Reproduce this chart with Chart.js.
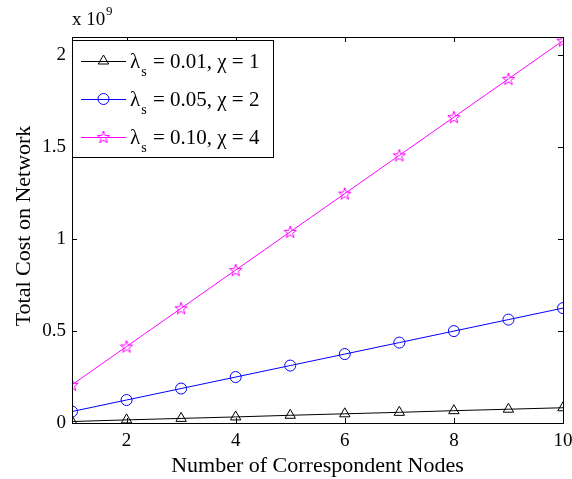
<!DOCTYPE html>
<html><head><meta charset="utf-8">
<script src="https://cdn.jsdelivr.net/npm/chart.js@4/dist/chart.umd.min.js"></script>
<style>html,body{margin:0;padding:0;background:#fff}#wrap{width:572px;height:479px}</style>
</head><body><div id="wrap"><canvas id="c" width="572" height="479"></canvas></div>
<script>
const nodes = [1,2,3,4,5,6,7,8,9,10];
const seriesLow = [0.008,0.017,0.025,0.033,0.042,0.050,0.058,0.067,0.075,0.083];
const seriesMid = [0.0625,0.125,0.1875,0.25,0.3125,0.375,0.4375,0.50,0.5625,0.625];
const seriesHigh = [0.208,0.416,0.624,0.832,1.04,1.248,1.456,1.664,1.872,2.08];
const xTicks = [2,4,6,8,10];
const yTicks = [0,0.5,1,1.5,2];
const legendSub = ['s','s','s'];
const legendPre = ['λ','λ','λ'];
const legendPost = [' = 0.01, χ = 1',' = 0.05, χ = 2',' = 0.10, χ = 4'];
const yTitle = 'Total Cost on Network';
const xTitle = 'Number of Correspondent Nodes';
const FONT = '"Liberation Serif", "Times New Roman", serif';

function starImg(color){
  const s = 16, c = document.createElement('canvas'); c.width = s; c.height = s;
  const g = c.getContext('2d'); g.strokeStyle = color; g.lineWidth = 1;
  const R = 6.5, r = 2.6, cx = 8, cy = 8.5;
  g.beginPath();
  for (let i=0;i<10;i++){ const a = -Math.PI/2 + i*Math.PI/5; const rr = i%2? r:R;
    const px = cx + rr*Math.cos(a), py = cy + rr*Math.sin(a); i? g.lineTo(px,py): g.moveTo(px,py); }
  g.closePath(); g.stroke(); return c;
}
const star = starImg('#ff00ff');

const ds = [
  {data: seriesLow, borderColor:'#000', pointStyle:'triangle', pointRadius:6},
  {data: seriesMid, borderColor:'#0000ff', pointStyle:'circle', pointRadius:5.5},
  {data: seriesHigh, borderColor:'#ff00ff', pointStyle: star, pointRadius:6}
].map(d=>Object.assign({borderWidth:1, backgroundColor:'rgba(0,0,0,0)', pointBorderColor:d.borderColor, pointBackgroundColor:'rgba(0,0,0,0)', pointBorderWidth:1, tension:0, fill:false}, d));

const decor = {
  id:'decor',
  afterDraw(chart){
    const {ctx, chartArea:a, scales:{x,y}} = chart;
    ctx.save();
    ctx.strokeStyle='#000'; ctx.lineWidth=1;
    ctx.strokeRect(Math.round(a.left)+0.5, Math.round(a.top)+0.5, Math.round(a.right-a.left), Math.round(a.bottom-a.top));
    ctx.beginPath();
    const tl = 5;
    xTicks.forEach(v=>{ const px = Math.round(x.getPixelForValue(v))+0.5;
      ctx.moveTo(px,a.bottom); ctx.lineTo(px,a.bottom-tl); ctx.moveTo(px,a.top); ctx.lineTo(px,a.top+tl); });
    yTicks.forEach(v=>{ const py = Math.round(y.getPixelForValue(v))+0.5;
      ctx.moveTo(a.left,py); ctx.lineTo(a.left+tl,py); ctx.moveTo(a.right,py); ctx.lineTo(a.right-tl,py); });
    ctx.stroke();
    // exponent
    ctx.fillStyle='#000'; ctx.textBaseline='alphabetic'; ctx.textAlign='left';
    ctx.font='19px '+FONT; ctx.fillText('x 10', a.left, a.top-12);
    ctx.font='13px '+FONT; ctx.fillText('9', a.left+34, a.top-22);
    // axis titles
    ctx.font='22px '+FONT; ctx.textAlign='center';
    ctx.fillText(xTitle, (a.left+a.right)/2, 472);
    ctx.save(); ctx.translate(30, 226); ctx.rotate(-Math.PI/2); ctx.fillText(yTitle, 0, 0); ctx.restore();
    // legend
    const lx = a.left+0.5, ly = 40.5, lw = 201, lh = 117;
    ctx.fillStyle='#fff'; ctx.fillRect(lx,ly,lw,lh); ctx.strokeRect(lx,ly,lw,lh);
    const rows = [61,99,137];
    chart.data.datasets.forEach((d,i)=>{
      const yy = rows[i];
      ctx.strokeStyle=d.borderColor; ctx.beginPath(); ctx.moveTo(81,yy+0.5); ctx.lineTo(126,yy+0.5); ctx.stroke();
      ctx.fillStyle='rgba(0,0,0,0)'; ctx.strokeStyle=d.borderColor; ctx.lineWidth=1;
      Chart.helpers.drawPoint(ctx, {pointStyle:d.pointStyle, radius:d.pointRadius, borderWidth:1}, 103.5, yy);
      ctx.fillStyle='#000'; ctx.textAlign='left';
      ctx.font='21px '+FONT; ctx.fillText(legendPre[i], 130, yy+7);
      const w1 = ctx.measureText(legendPre[i]).width;
      ctx.font='14px '+FONT; ctx.fillText(legendSub[i], 130+w1+1, yy+15);
      const w2 = ctx.measureText(legendSub[i]).width;
      ctx.font='21px '+FONT; ctx.fillText(legendPost[i], 130+w1+w2+2, yy+7);
    });
    ctx.restore();
  }
};

new Chart(document.getElementById('c'), {
  type:'line',
  data:{labels: nodes, datasets: ds},
  options:{
    responsive:false, animation:false, devicePixelRatio:1,
    layout:{padding:{top:37,right:9,left:0,bottom:0}},
    plugins:{legend:{display:false}, tooltip:{enabled:false}},
    scales:{
      x:{type:'linear', min:1, max:10,
        afterBuildTicks(s){ s.ticks = xTicks.map(v=>({value:v})); },
        afterFit(s){ s.height = 56; s.paddingLeft = 0; s.paddingRight = 0; },
        grid:{display:false, drawTicks:false}, border:{display:false},
        ticks:{padding:7, color:'#000', font:{family:FONT, size:19}, maxRotation:0}},
      y:{type:'linear', min:0, max:2.1,
        afterBuildTicks(s){ s.ticks = yTicks.map(v=>({value:v})); },
        afterFit(s){ s.width = 72; s.paddingTop = 0; s.paddingBottom = 0; },
        grid:{display:false, drawTicks:false}, border:{display:false},
        ticks:{padding:6, color:'#000', font:{family:FONT, size:19}, callback:v=>String(v)}}
    }
  },
  plugins:[decor]
});
</script></body></html>
